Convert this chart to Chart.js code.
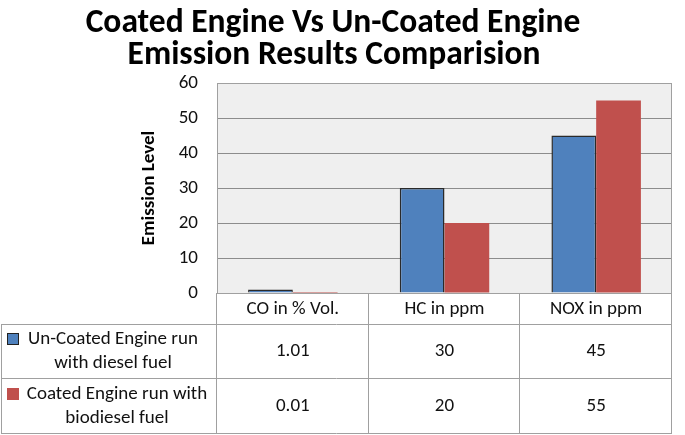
<!DOCTYPE html>
<html>
<head>
<meta charset="utf-8">
<script src="https://cdn.jsdelivr.net/npm/chart.js@4.4.0/dist/chart.umd.min.js"></script>
<style>
  html, body { margin: 0; padding: 0; background: #fff; }
  #wrap { width: 685px; height: 435px; }
</style>
</head>
<body>
<div id="wrap"><canvas id="chart" width="685" height="435"></canvas></div>
<script>
const CATEGORIES = ["CO in % Vol.", "HC in ppm", "NOX in ppm"];
const UNCOATED = [1.01, 30, 45];
const COATED = [0.01, 20, 55];
const UNCOATED_LABEL = ["Un-Coated Engine run", "with diesel fuel"];
const COATED_LABEL = ["Coated Engine run with", "biodiesel fuel"];
const TITLE_LINES = ["Coated Engine Vs Un-Coated Engine", "Emission Results Comparision"];
const Y_TICKS = [0, 10, 20, 30, 40, 50, 60];

const FONT = "Carlito, Lato, 'Open Sans', sans-serif";
const BLUE = "#4f81bd";
const RED = "#c0504d";
const LINE = "#a0a0a0";

// ====== background, title and data table ======
const tablePlugin = {
  id: "tablePlugin",
  beforeDraw(chart) {
    const { ctx, chartArea: a } = chart;
    ctx.save();
    ctx.fillStyle = "#efefef";
    ctx.fillRect(a.left, a.top, a.width, a.height);
    ctx.restore();
  },
  afterDraw(chart) {
    const { ctx, chartArea: a } = chart;
    const xs = chart.scales.x;
    const half = a.width / CATEGORIES.length / 2;

    ctx.save();
    // title
    ctx.fillStyle = "#000";
    ctx.font = "bold 33.5px " + FONT;
    ctx.textAlign = "center";
    ctx.textBaseline = "alphabetic";
    ctx.fillText(TITLE_LINES[0], 333, 32);
    ctx.fillText(TITLE_LINES[1], 334, 64);

    // plot border
    ctx.strokeStyle = LINE;
    ctx.lineWidth = 1;
    ctx.strokeRect(a.left + 0.5, a.top + 0.5, a.width - 1, a.height);

    // table grid
    const rows = [a.bottom, 324, 378, 433];
    const cols = [a.left];
    CATEGORIES.forEach((c, i) => cols.push(xs.getPixelForValue(i) + half));
    ctx.beginPath();
    for (let r = 1; r < rows.length; r++) {
      ctx.moveTo(1, rows[r] + 0.5);
      ctx.lineTo(a.right, rows[r] + 0.5);
    }
    ctx.moveTo(1.5, rows[1]);
    ctx.lineTo(1.5, rows[3]);
    cols.forEach(x => {
      const px = Math.round(x) - 0.5;
      ctx.moveTo(px, rows[0]);
      ctx.lineTo(px, rows[3] + 1);
    });
    ctx.stroke();

    // header + values
    ctx.fillStyle = "#111";
    ctx.font = "19px " + FONT;
    ctx.textBaseline = "middle";
    CATEGORIES.forEach((c, i) => {
      const cx = xs.getPixelForValue(i);
      ctx.fillText(c, cx, 309);
      ctx.fillText(UNCOATED[i].toFixed(i === 0 ? 2 : 0), cx, 351);
      ctx.fillText(COATED[i].toFixed(i === 0 ? 2 : 0), cx, 406);
    });

    // row labels with legend keys
    const drawLabel = (lines, y, cx, color, border) => {
      ctx.fillStyle = color;
      ctx.fillRect(7, y - 6, 12, 12);
      if (border) {
        ctx.strokeStyle = "#222";
        ctx.strokeRect(7.5, y - 5.5, 11, 11);
      }
      ctx.fillStyle = "#111";
      ctx.fillText(lines[0], cx, y);
      ctx.fillText(lines[1], cx, y + 24);
    };
    drawLabel(UNCOATED_LABEL, 339, 113, BLUE, true);
    drawLabel(COATED_LABEL, 394, 117, RED, false);
    ctx.restore();
  }
};

new Chart(document.getElementById("chart"), {
  type: "bar",
  data: {
    labels: CATEGORIES,
    datasets: [
      {
        label: UNCOATED_LABEL.join(" "),
        data: UNCOATED,
        backgroundColor: BLUE,
        borderColor: "#2a2a2a",
        borderWidth: 1.5
      },
      {
        label: COATED_LABEL.join(" "),
        data: COATED,
        backgroundColor: RED,
        borderWidth: 0
      }
    ]
  },
  options: {
    responsive: false,
    animation: false,
    layout: { padding: { top: 83, right: 13, bottom: 142, left: 0 } },
    datasets: { bar: { categoryPercentage: 0.59, barPercentage: 1 } },
    plugins: {
      legend: { display: false },
      title: { display: false },
      tooltip: { enabled: false }
    },
    scales: {
      x: { display: false },
      y: {
        min: 0,
        max: 60,
        afterBuildTicks: s => { s.ticks = Y_TICKS.map(v => ({ value: v })); },
        afterFit: s => { s.width = 217; },
        grid: { color: "#8c8c8c", drawTicks: false },
        border: { color: LINE },
        ticks: {
          padding: 19,
          color: "#111",
          font: { family: FONT, size: 19 }
        },
        title: {
          display: true,
          text: "Emission Level",
          color: "#000",
          font: { family: FONT, size: 19, weight: "bold" },
          padding: { top: 138, bottom: 0 }
        }
      }
    }
  },
  plugins: [tablePlugin]
});
</script>
</body>
</html>
